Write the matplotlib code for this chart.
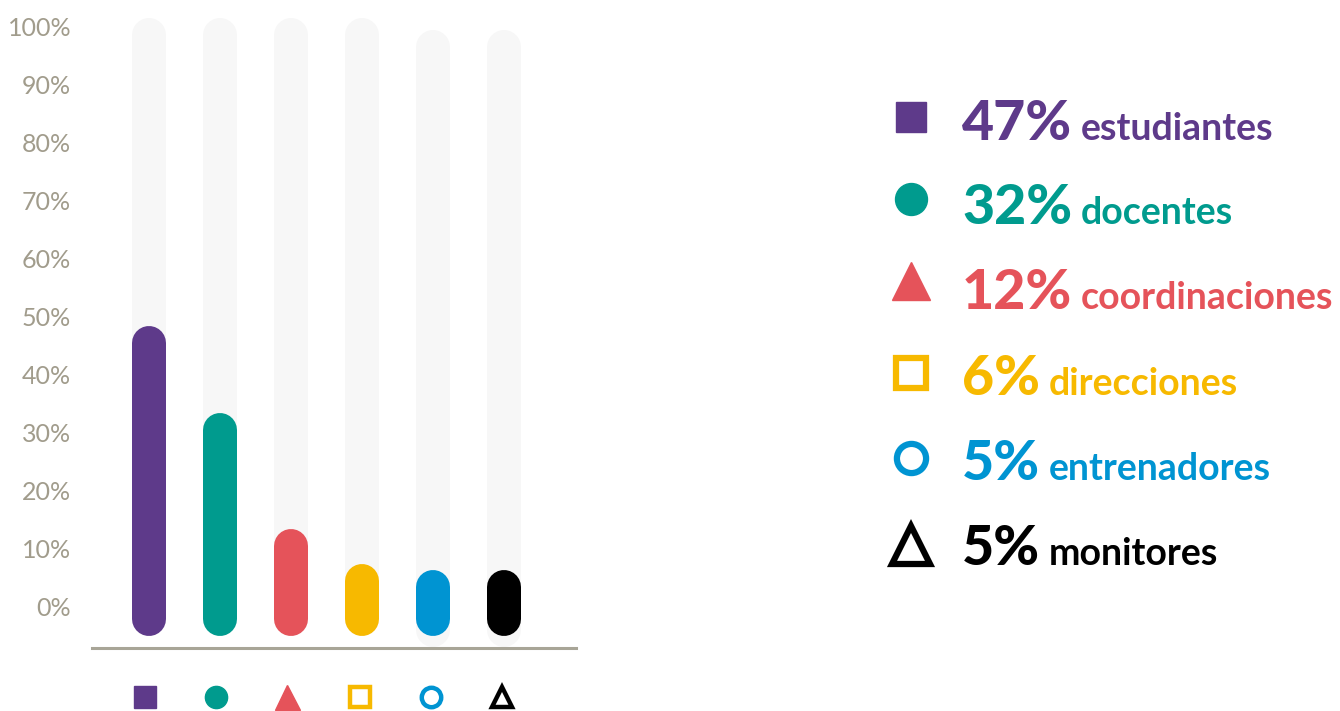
import matplotlib
matplotlib.use("Agg")
import matplotlib.pyplot as plt
from matplotlib import transforms as mtransforms

# ---- data ----
categories = ["estudiantes", "docentes", "coordinaciones", "direcciones", "entrenadores", "monitores"]
values = [47, 32, 12, 6, 5, 5]
track_tops = [101.5, 101.5, 101.5, 101.5, 99.5, 99.5]
pct_labels = ["47%", "32%", "12%", "6%", "5%", "5%"]
ytick_values = [0, 10, 20, 30, 40, 50, 60, 70, 80, 90, 100]
ytick_labels = ["0%", "10%", "20%", "30%", "40%", "50%", "60%", "70%", "80%", "90%", "100%"]

# ---- styles ----
colors = ["#5E3A8A", "#009B8E", "#E5535A", "#F7B900", "#0094D2", "#000000"]
markers = ["s", "o", "^", "s", "o", "^"]
filled = [True, True, True, False, False, False]
track_color = "#F7F7F7"
tick_color = "#A19C8C"
axis_color = "#A8A597"

W, H = 1340, 711
fig = plt.figure(figsize=(W / 100, H / 100), dpi=100)

# main axes: x pixels 92..576, y pixels 648 (-7.1%) .. top
px_per_pct = 5.8
y_bottom = -7.1
y_top = y_bottom + 648 / px_per_pct
ax = fig.add_axes([92 / W, (H - 648) / H, (576 - 92) / W, 648 / H])
ax.set_ylim(y_bottom, y_top)
ax.set_xlim(-57 / 71, 5 + 72 / 71)

lw_px = 34
lw_pt = lw_px * 72 / 100
cap_pct = (lw_px / 2) / px_per_pct
x = list(range(len(categories)))

for i, (v, t) in enumerate(zip(values, track_tops)):
    bottom = -5 if i < 4 else -7
    ax.plot([i, i], [bottom + cap_pct, t - cap_pct], color=track_color, lw=lw_pt,
            solid_capstyle="round", zorder=1)
    ax.plot([i, i], [-5 + cap_pct, max(v - 1.5, -5 + cap_pct + 0.01)], color=colors[i],
            lw=lw_pt, solid_capstyle="round", zorder=2)

for s in ["top", "right", "left"]:
    ax.spines[s].set_visible(False)
ax.spines["bottom"].set_color(axis_color)
ax.spines["bottom"].set_linewidth(2.2)
ax.set_xticks([])
ax.set_yticks(ytick_values)
ax.set_yticklabels(ytick_labels, color=tick_color, fontsize=18,
                   fontfamily="Lato", fontweight="normal")
ax.tick_params(axis="y", length=0, pad=15)

# category markers below the axis
trans = mtransforms.blended_transform_factory(ax.transData, ax.transAxes)
y_mark = -(697 - 648) / 648
for i in x:
    if filled[i]:
        ax.plot(i - 0.06, y_mark, marker=markers[i], ms=16 if markers[i] != "^" else 18,
                color=colors[i], mec=colors[i], transform=trans, clip_on=False)
    else:
        ax.plot(i - 0.03, y_mark, marker=markers[i], ms=14 if markers[i] != "^" else 15,
                mfc="white", mec=colors[i], mew=3.2, transform=trans, clip_on=False)

# legend on the right (pixel-layout overlay)
lax = fig.add_axes([0, 0, 1, 1], facecolor="none")
lax.set_xlim(0, W)
lax.set_ylim(H, 0)
lax.axis("off")

row_base = [140, 224, 309, 395, 480, 565]
marker_y = [117, 199, 281, 373, 458, 545]
leg_ms = [22, 23, 28, 21, 21, 28]
for i in x:
    if filled[i]:
        lax.plot(911, marker_y[i], marker=markers[i], ms=leg_ms[i], color=colors[i], mec=colors[i])
    else:
        lax.plot(911, marker_y[i], marker=markers[i], ms=leg_ms[i], mfc="white",
                 mec=colors[i], mew=4.5)

fig.canvas.draw()
renderer = fig.canvas.get_renderer()
for i in x:
    t = lax.text(962, row_base[i], pct_labels[i], color=colors[i], fontsize=40,
                 fontfamily="Lato", fontweight="black", va="baseline", ha="left")
    bb = t.get_window_extent(renderer=renderer)
    lx = bb.x1 + 9
    lax.text(lx, row_base[i], categories[i], color=colors[i], fontsize=27,
             fontfamily="Lato", fontweight="bold", va="baseline", ha="left")

fig.savefig("out.png", dpi=100)
